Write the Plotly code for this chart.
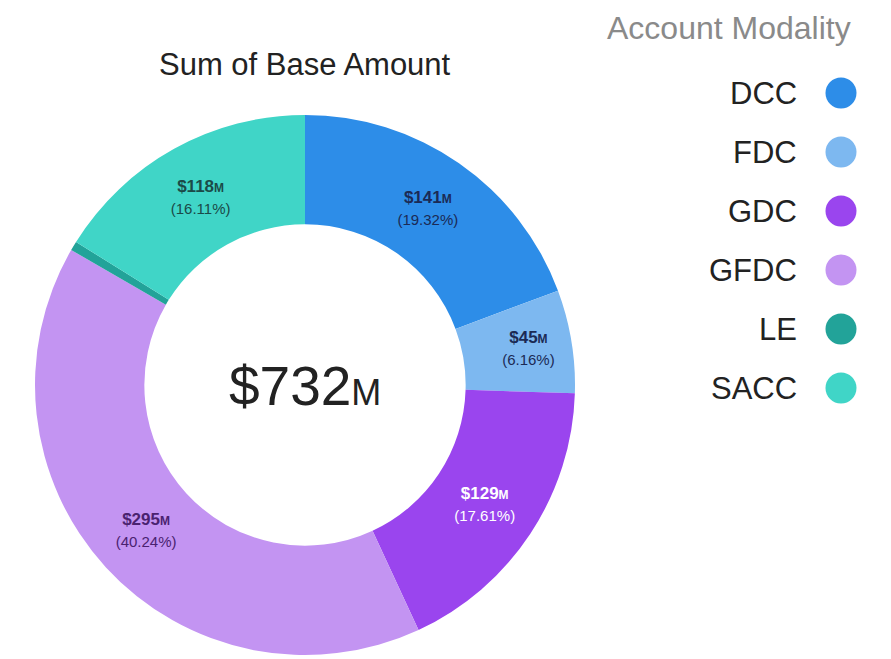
import plotly.graph_objects as go

# ---- data ----
categories = ["DCC", "FDC", "GDC", "GFDC", "LE", "SACC"]
values_m = [141.42, 45.09, 128.91, 294.56, 4.06, 117.93]
amount_labels = ["$141", "$45", "$129", "$295", "", "$118"]
colors = ["#2d8de8", "#7db8f0", "#9a45ee", "#c394f2", "#22a399", "#40d5c7"]
text_colors = ["#1b2a55", "#1b2a55", "#ffffff", "#4a2270", "#1b2a55", "#1b4a48"]
total_label = "$732"
chart_title = "Sum of Base Amount"
legend_title = "Account Modality"

OFF = 8                      # browser body margin
W, H = 891 - OFF, 659 - OFF  # figure size
FONT = "Liberation Sans, Arial, sans-serif"


def px(x):
    return x - OFF


texttemplates = []
for lab in amount_labels:
    if lab:
        texttemplates.append(
            "<b>" + lab + "<span style='font-size:12px'>M</span></b><br>"
            "<span style='font-size:15px'>(%{percent:.2%})</span>"
        )
    else:
        texttemplates.append("")

pie_left, pie_right, pie_top, pie_bottom = px(35), px(575), px(115), px(655)

fig = go.Figure()
fig.add_trace(go.Pie(
    labels=categories,
    values=values_m,
    hole=0.595,
    sort=False,
    direction="clockwise",
    rotation=0,
    marker=dict(colors=colors, line=dict(width=0)),
    texttemplate=texttemplates,
    textposition="inside",
    insidetextorientation="horizontal",
    insidetextfont=dict(family=FONT, size=17, color=text_colors),
    domain=dict(x=[pie_left / W, pie_right / W],
                y=[max(0, (H - pie_bottom) / H), (H - pie_top) / H]),
    showlegend=False,
    hoverinfo="label+value+percent",
))

# custom legend: markers to the right of labels
leg_x = px(841)
leg_ys = [px(93 + i * 59) for i in range(len(categories))]
fig.add_trace(go.Scatter(
    x=[leg_x] * len(categories), y=leg_ys, mode="markers",
    marker=dict(size=31, color=colors, line=dict(width=0)),
    showlegend=False, hoverinfo="skip",
    xaxis="x", yaxis="y",
))

annotations = [
    dict(text=total_label + "<span style='font-size:36px'>M</span>", x=px(305), y=px(386),
         xref="x", yref="y", showarrow=False,
         font=dict(family=FONT, size=55, color="#222222"), xanchor="center", yanchor="middle"),
    dict(text=chart_title, x=px(305), y=px(64), xref="x", yref="y", showarrow=False,
         font=dict(family=FONT, size=31, color="#222222"), xanchor="center", yanchor="middle"),
    dict(text=legend_title, x=px(605), y=px(28), xref="x", yref="y", showarrow=False,
         font=dict(family=FONT, size=32, color="#8a8a8a"), xanchor="left", yanchor="middle"),
]
for cat, y in zip(categories, leg_ys):
    annotations.append(dict(text=cat, x=px(799), y=y, xref="x", yref="y", showarrow=False,
                            font=dict(family=FONT, size=31, color="#222222"),
                            xanchor="right", yanchor="middle"))

fig.update_layout(
    width=W, height=H,
    margin=dict(l=0, r=0, t=0, b=0),
    paper_bgcolor="white", plot_bgcolor="rgba(0,0,0,0)",
    xaxis=dict(range=[0, W], visible=False, fixedrange=True, domain=[0, 1]),
    yaxis=dict(range=[H, 0], visible=False, fixedrange=True, domain=[0, 1]),
    annotations=annotations,
    showlegend=False,
)

fig.write_html("out.html")
